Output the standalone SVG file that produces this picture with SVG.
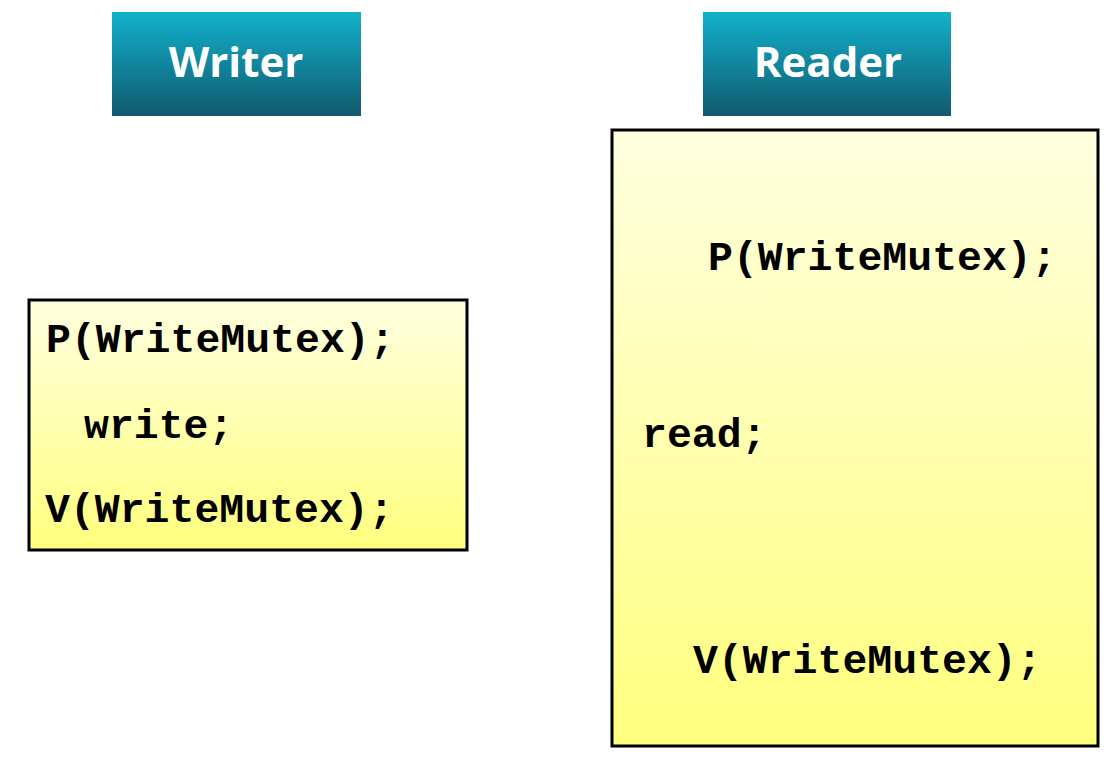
<svg xmlns="http://www.w3.org/2000/svg" width="1119" height="759" viewBox="0 0 1119 759">
<defs>
<linearGradient id="hdr" x1="0" y1="0" x2="0" y2="1">
<stop offset="0" stop-color="#12b1cc"/>
<stop offset="1" stop-color="#115a6e"/>
</linearGradient>
<linearGradient id="box" x1="0" y1="0" x2="0" y2="1">
<stop offset="0" stop-color="#ffffe0"/>
<stop offset="1" stop-color="#ffff7e"/>
</linearGradient>
<style>
.hdr{fill:url(#hdr);}
.ht{font-family:"Open Sans","Noto Sans",sans-serif;font-weight:bold;font-size:42px;fill:#fff;text-anchor:middle;}
.box{fill:url(#box);stroke:#000;stroke-width:3;}
.code{font-family:"Liberation Mono","Courier New",monospace;font-weight:bold;font-size:41.5px;fill:#000;}
</style>
</defs>
<g id="writer-header">
<rect class="hdr" x="112" y="12" width="249" height="104"/>
<text class="ht" x="236" y="77">Writer</text>
</g>
<g id="reader-header">
<rect class="hdr" x="703" y="12" width="248" height="104"/>
<text class="ht" x="828" y="77">Reader</text>
</g>
<g id="writer-box">
<rect class="box" x="29" y="300" width="438" height="250"/>
<text class="code" x="46" y="352">P(WriteMutex);</text>
<text class="code" x="84" y="438">write;</text>
<text class="code" x="45" y="522">V(WriteMutex);</text>
</g>
<g id="reader-box">
<rect class="box" x="612" y="130" width="486" height="616"/>
<text class="code" x="708" y="270">P(WriteMutex);</text>
<text class="code" x="642" y="447">read;</text>
<text class="code" x="693" y="673">V(WriteMutex);</text>
</g>
<g id="connectors"/>
</svg>
